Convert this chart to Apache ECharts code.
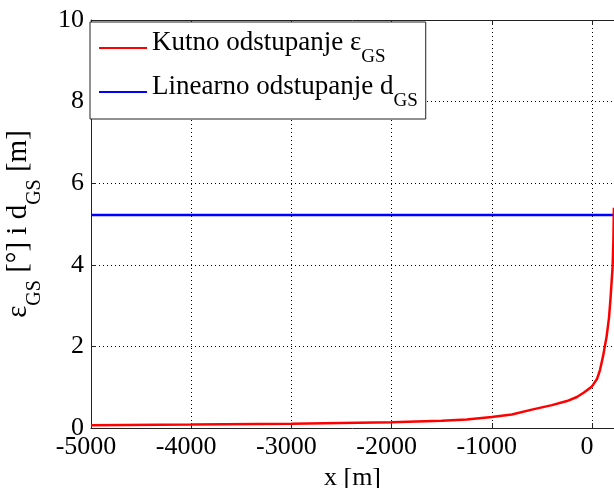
<!DOCTYPE html>
<html>
<head>
<meta charset="utf-8">
<script src="https://cdn.jsdelivr.net/npm/echarts@6/dist/echarts.min.js"></script>
<style>html,body{margin:0;padding:0;background:#fff}#c{width:614px;height:488px}</style>
</head>
<body>
<div id="c"></div>
<script>
const xValues = [-5000, -4000, -3000, -2000, -1500, -1250, -1000, -800, -600, -400, -250, -150, -80, 0, 50, 80, 110, 146, 170, 186, 206, 214, 219];
const kutnoValues = [0.07, 0.085, 0.105, 0.14, 0.18, 0.21, 0.27, 0.33, 0.45, 0.56, 0.66, 0.76, 0.87, 1.02, 1.2, 1.42, 1.75, 2.24, 2.7, 3.2, 3.95, 4.6, 5.4];
const linearX = [-5000, 220];
const linearValues = [5.22, 5.22];
const xTicks = [-5000, -4000, -3000, -2000, -1000, 0];
const yTicks = [0, 2, 4, 6, 8, 10];
const seriesNames = ['Kutno odstupanje', 'Linearno odstupanje'];

const FONT = 'Liberation Serif';
const chart = echarts.init(document.getElementById('c'), null, {renderer: 'canvas'});
const axisColor = '#222';
const gridLine = {show: true, lineStyle: {color: '#000', type: [1, 3], width: 1}};
const richSub = {
  a: {fontFamily: FONT, fontSize: 27, color: '#000', lineHeight: 27, verticalAlign: 'top'},
  s: {fontFamily: FONT, fontSize: 19, color: '#000', lineHeight: 38, verticalAlign: 'bottom'}
};
chart.setOption({
  animation: false,
  backgroundColor: '#fff',
  grid: {left: 91, top: 20, right: 0, bottom: 60, containLabel: false, outerBoundsMode: 'none'},
  legend: {
    orient: 'vertical', left: 90, top: 22,
    padding: [7, 8, 8, 9], itemGap: 6,
    backgroundColor: '#fff', borderColor: axisColor, borderWidth: 1,
    icon: 'rect', itemWidth: 48, itemHeight: 2,
    data: seriesNames,
    formatter: function (n) {
      return n === seriesNames[0] ? '{a|Kutno odstupanje ε}{s|GS}' : '{a|Linearno odstupanje d}{s|GS}';
    },
    textStyle: {fontFamily: FONT, color: '#000', rich: richSub}
  },
  xAxis: [{
    type: 'value', min: xTicks[0], max: 220, interval: 1000,
    axisLine: {show: true, onZero: false, lineStyle: {color: axisColor, width: 1}},
    axisTick: {show: true, inside: true, length: 5, lineStyle: {color: axisColor}},
    axisLabel: {fontFamily: FONT, fontSize: 26, color: '#000', margin: 6, showMaxLabel: false,
      padding: [0, 10, 0, 0],
      formatter: function (v) { return xTicks.indexOf(v) >= 0 ? String(v) : ''; }},
    splitLine: gridLine,
    name: 'x [m]', nameLocation: 'middle', nameGap: 31,
    nameTextStyle: {fontFamily: FONT, fontSize: 26, color: '#000'}
  }, {
    type: 'value', position: 'top', min: xTicks[0], max: 220, interval: 1000,
    axisLine: {show: true, onZero: false, lineStyle: {color: axisColor, width: 1}},
    axisTick: {show: true, inside: true, length: 5, lineStyle: {color: axisColor}},
    axisLabel: {show: false}, splitLine: {show: false}
  }],
  yAxis: [{
    type: 'value', min: yTicks[0], max: yTicks[yTicks.length - 1], interval: 2,
    axisLine: {show: true, onZero: false, lineStyle: {color: axisColor, width: 1}},
    axisTick: {show: true, inside: true, length: 5, lineStyle: {color: axisColor}},
    axisLabel: {fontFamily: FONT, fontSize: 26, color: '#000', margin: 7},
    splitLine: gridLine,
    name: '{a|ε}{s|GS}{a| [°] i d}{s|GS}{a| [m]}', nameLocation: 'middle', nameGap: 46, nameRotate: 90,
    nameTextStyle: {fontFamily: FONT, color: '#000', rich: {
      a: {fontFamily: FONT, fontSize: 29, color: '#000', lineHeight: 29, verticalAlign: 'top'},
      s: {fontFamily: FONT, fontSize: 20, color: '#000', lineHeight: 41, verticalAlign: 'bottom'}
    }}
  }],
  series: [{
    name: seriesNames[1], type: 'line', showSymbol: false, symbol: 'none',
    data: linearX.map((x, i) => [x, linearValues[i]]),
    lineStyle: {color: '#0000ff', width: 2.5}, itemStyle: {color: '#0000ff'}
  }, {
    name: seriesNames[0], type: 'line', showSymbol: false, symbol: 'none', smooth: false,
    data: xValues.map((x, i) => [x, kutnoValues[i]]),
    lineStyle: {color: '#ff0000', width: 2.5}, itemStyle: {color: '#ff0000'}
  }]
});
</script>
</body>
</html>
